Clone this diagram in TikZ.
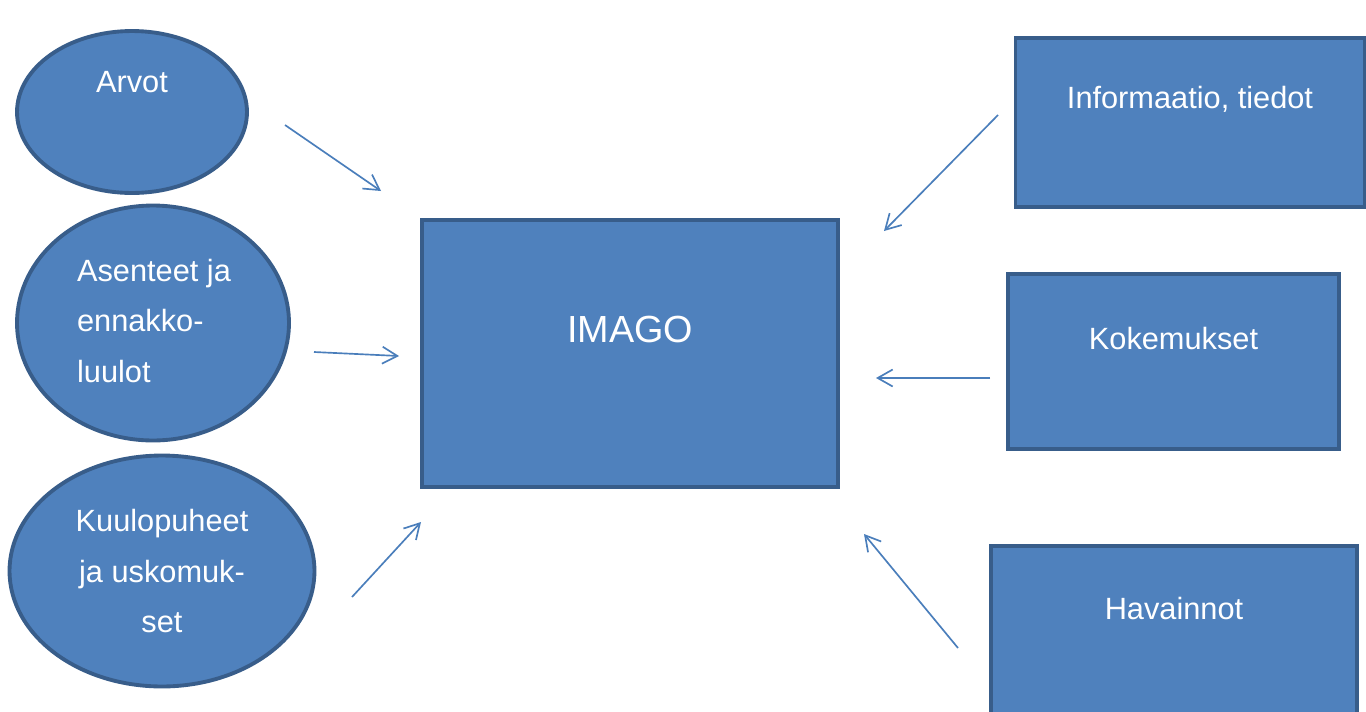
\documentclass[tikz,border=0pt]{standalone}
\usepackage{fontspec}
\setmainfont{Liberation Sans}
\usepackage{xcolor}
\usetikzlibrary{shapes.geometric,arrows.meta,positioning}

\definecolor{boxfill}{HTML}{4F81BD}
\definecolor{boxline}{HTML}{385D8A}
\definecolor{arrowcol}{HTML}{4A7EBB}

\tikzset{
  oval/.style={ellipse, draw=boxline, fill=boxfill, line width=2.2pt, inner sep=0pt},
  rectbox/.style={rectangle, draw=boxline, fill=boxfill, line width=2.2pt, inner sep=0pt},
  lbl/.style={text=white, font=\fontsize{17.5}{28.5}\selectfont, inner sep=0pt},
  conn/.style={draw=arrowcol, line width=0.95pt, -{Straight Barb[length=0.3cm, width=0.34cm]}}
}

\begin{document}
\begin{tikzpicture}[x=0.02cm, y=-0.02cm]

    % page frame
    \clip (0,0) rectangle (1366,711);
    \fill[white] (0,0) rectangle (1366,711);

    % the ovals on the left
    \node[oval, minimum width=4.6cm, minimum height=3.24cm] (arvot) at (132,112) {};
    \node[lbl] (arvot-t) at ([yshift=0.6cm]arvot.center) {Arvot};

    \node[oval, minimum width=5.44cm, minimum height=4.7cm] (asenteet) at (153,323) {};
    \node[lbl, align=left] (asenteet-t) at (154,321) {Asenteet ja\\ennakko-\\luulot};

    \node[oval, minimum width=6.1cm, minimum height=4.62cm] (kuulo) at (162,571) {};
    \node[lbl, align=center] (kuulo-t) at (162,571) {Kuulopuheet\\ja uskomuk-\\set};

    % the image in the middle
    \node[rectbox, minimum width=8.32cm, minimum height=5.34cm] (imago) at (630,353.5) {};
    \node[lbl, font=\fontsize{21.5}{26}\selectfont] (imago-t) at ([yshift=-2.22cm]imago.north) {IMAGO};

    % the boxes on the right
    \node[rectbox, minimum width=6.98cm, minimum height=3.38cm] (info) at (1190,122.5) {};
    \node[lbl] (info-t) at ([yshift=-1.26cm]info.north) {Informaatio, tiedot};

    \node[rectbox, minimum width=6.62cm, minimum height=3.5cm] (koke) at (1173.5,361.5) {};
    \node[lbl] (koke-t) at ([yshift=-1.32cm]koke.north) {Kokemukset};

    \node[rectbox, minimum width=7.32cm, minimum height=3.8cm] (havainnot) at (1174,641) {};
    \node[lbl] (havainnot-t) at ([yshift=-1.28cm]havainnot.north) {Havainnot};

    % arrow ends, they float between the shapes
    \coordinate (arvot-a) at (285,125);   \coordinate (imago-a) at (381,191);
    \coordinate (asenteet-a) at (314,352); \coordinate (imago-b) at (399,356);
    \coordinate (kuulo-a) at (352,597);   \coordinate (imago-c) at (421,522);
    \coordinate (info-a) at (998,115);    \coordinate (imago-d) at (884,231);
    \coordinate (koke-a) at (990,378);    \coordinate (imago-e) at (876,378);
    \coordinate (havainnot-a) at (958,648); \coordinate (imago-f) at (864,534);

    \draw[conn] (arvot-a) -- (imago-a);
    \draw[conn] (asenteet-a) -- (imago-b);
    \draw[conn] (kuulo-a) -- (imago-c);
    \draw[conn] (info-a) -- (imago-d);
    \draw[conn] (koke-a) -- (imago-e);
    \draw[conn] (havainnot-a) -- (imago-f);

\end{tikzpicture}
\end{document}
